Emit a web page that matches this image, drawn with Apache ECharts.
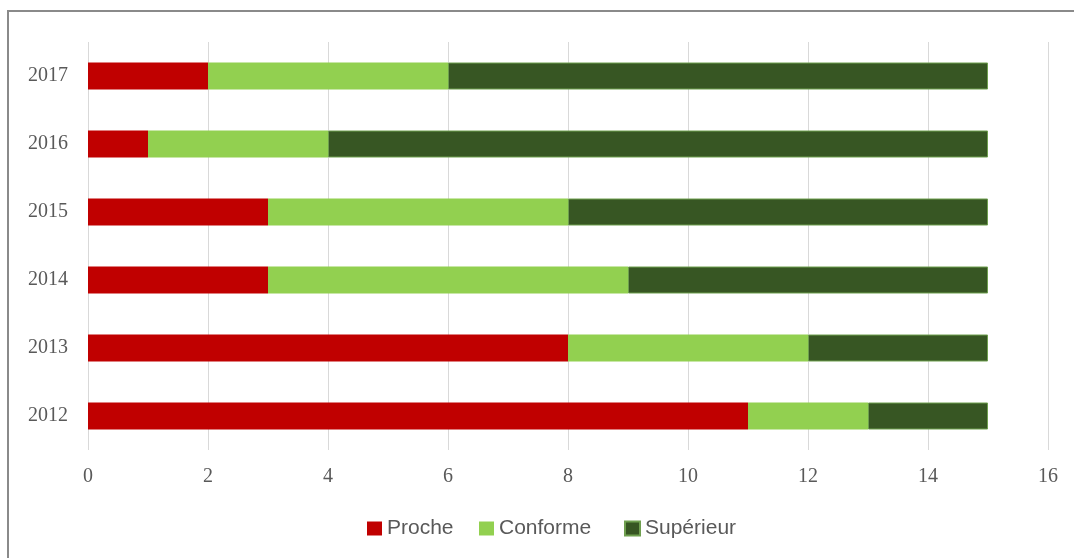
<!DOCTYPE html>
<html>
<head>
<meta charset="utf-8">
<title>Répartition par année</title>
<script src="https://cdn.jsdelivr.net/npm/echarts@6/dist/echarts.min.js"></script>
<style>
  html, body { margin: 0; padding: 0; background: #ffffff; }
  #chart { width: 1074px; height: 558px; }
</style>
</head>
<body>
<div id="chart"></div>
<script>
// Years, bottom to top
const years = ['2012', '2013', '2014', '2015', '2016', '2017'];

// Counts per category for each year
const proche    = [11, 8, 3, 3, 1, 2];
const conforme  = [2, 4, 6, 5, 3, 4];
const superieur = [2, 3, 6, 7, 11, 9];

const seriesNames = ['Proche', 'Conforme', 'Supérieur'];
const seriesColors = ['#c00000', '#92d050', '#375623'];

const chart = echarts.init(document.getElementById('chart'), null, { renderer: 'canvas' });

const labelColor = '#595959';

// One legend block per series so each entry sits at its own x position
const legendLefts = [367, 479, 624];
const legends = seriesNames.map((name, i) => ({
  data: [name],
  left: legendLefts[i],
  top: 518,
  padding: 0,
  itemWidth: 15,
  itemHeight: 14,
  icon: 'rect',
  textStyle: { color: labelColor, fontFamily: 'Liberation Sans', fontSize: 21 }
}));

chart.setOption({
  animation: false,
  backgroundColor: '#ffffff',
  graphic: [{
    type: 'rect',
    shape: { x: 8, y: 11, width: 1100, height: 600 },
    style: { fill: 'none', stroke: '#8a8a8a', lineWidth: 2 },
    silent: true,
    z: 100
  }],
  grid: { left: 88, right: 26, top: 42, bottom: 108, containLabel: false },
  legend: legends,
  xAxis: {
    type: 'value',
    min: 0,
    max: 16,
    interval: 2,
    axisLine: { show: false },
    axisTick: { show: false },
    splitLine: { show: true, lineStyle: { color: '#d9d9d9', width: 1 } },
    axisLabel: { color: labelColor, fontFamily: 'Liberation Serif', fontSize: 20, margin: 17 }
  },
  yAxis: {
    type: 'category',
    data: years,
    axisLine: { show: false },
    axisTick: { show: false },
    splitLine: { show: false },
    axisLabel: { color: labelColor, fontFamily: 'Liberation Serif', fontSize: 20, margin: 20 }
  },
  series: [
    {
      name: seriesNames[0], type: 'bar', stack: 'total', data: proche,
      barWidth: 27,
      itemStyle: { color: seriesColors[0] }
    },
    {
      name: seriesNames[1], type: 'bar', stack: 'total', data: conforme,
      barWidth: 27,
      itemStyle: { color: seriesColors[1] }
    },
    {
      name: seriesNames[2], type: 'bar', stack: 'total', data: superieur,
      barWidth: 27,
      itemStyle: { color: seriesColors[2], borderColor: '#6f9f4f', borderWidth: 1 }
    }
  ]
});
</script>
</body>
</html>
